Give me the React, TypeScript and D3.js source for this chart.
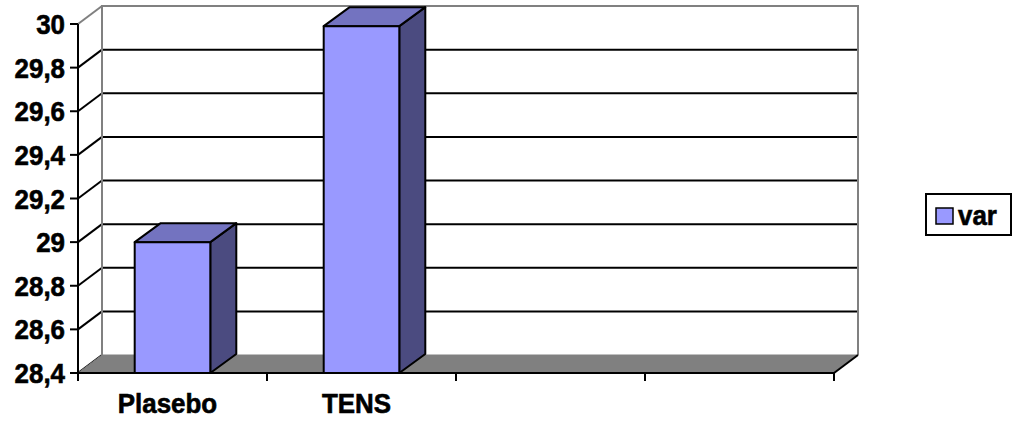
import React from 'react';
import * as d3 from 'd3';

// chart data
const categories = ['Plasebo', 'TENS', '', ''];
const varValues = [29.0, 29.99, null, null];
const yTicks = [28.4, 28.6, 28.8, 29, 29.2, 29.4, 29.6, 29.8, 30];
const seriesName = 'var';

const W = 1015;
const H = 421;
const front = { left: 78, right: 834, top: 24, bottom: 373 };
const depth = { dx: 24, dy: -18 }; // wall offset
const barDepth = { dx: 26, dy: -19 };
const font = 'Arial, "Liberation Sans", sans-serif';
const sx = 0.96; // horizontal squeeze of the text

const App = () => {
  const yScale = d3.scaleLinear().domain([28.4, 30]).range([front.bottom, front.top]);
  const xScale = d3
    .scaleBand<number>()
    .domain(d3.range(categories.length))
    .range([front.left, front.right]);
  const barW = xScale.bandwidth() / 2.5;
  const fmt = (v: number) => String(v).replace('.', ',');

  const backL = front.left + depth.dx;
  const backR = front.right + depth.dx;
  const backTop = front.top + depth.dy;
  const backBottom = front.bottom + depth.dy;

  const label = (x: number, y: number, text: string, anchor: string, key?: any) => (
    <text
      key={key}
      transform={`translate(${x},${y}) scale(${sx},1)`}
      textAnchor={anchor}
      fontFamily={font}
      fontWeight="bold"
      fontSize={27}
      fill="#000"
      stroke="#000"
      strokeWidth={0.6}
    >
      {text}
    </text>
  );

  return (
    <svg width={W} height={H} style={{ position: 'absolute', left: 0, top: 0 }}>
      <rect width={W} height={H} fill="#fff" />

      {/* back wall */}
      <rect x={backL} y={backTop} width={backR - backL} height={backBottom - backTop} fill="#fff" />
      {yTicks.slice(1, -1).map((t) => (
        <line
          key={'g' + t}
          x1={backL}
          x2={backR}
          y1={yScale(t) + depth.dy}
          y2={yScale(t) + depth.dy}
          stroke="#000"
          strokeWidth={2}
        />
      ))}
      {/* side wall grid diagonals */}
      {yTicks.slice(0, -1).map((t) => (
        <line
          key={'d' + t}
          x1={front.left}
          y1={yScale(t)}
          x2={backL}
          y2={yScale(t) + depth.dy}
          stroke="#000"
          strokeWidth={2}
        />
      ))}
      <line x1={front.left} y1={front.top} x2={backL} y2={backTop} stroke="#808080" strokeWidth={2} />
      <polyline
        points={`${backL},${backBottom} ${backL},${backTop} ${backR},${backTop} ${backR},${backBottom}`}
        fill="none"
        stroke="#808080"
        strokeWidth={2}
      />

      {/* floor */}
      <polygon
        points={`${front.left},${front.bottom} ${front.right},${front.bottom} ${backR},${backBottom} ${backL},${backBottom}`}
        fill="#808080"
        stroke="#808080"
        strokeWidth={1}
      />
      <line x1={front.right} y1={front.bottom} x2={backR} y2={backBottom} stroke="#000" strokeWidth={2} />

      {/* bars */}
      {varValues.map((v, i) => {
        if (v == null) return null;
        const cx = (xScale(i) as number) + xScale.bandwidth() / 2;
        const x0 = cx - barW / 2;
        const x1 = cx + barW / 2;
        const yt = yScale(v);
        const yb = yScale(28.4);
        const { dx, dy } = barDepth;
        return (
          <g key={'b' + i} stroke="#000" strokeWidth={2} strokeLinejoin="round">
            <polygon points={`${x1},${yb} ${x1 + dx},${yb + dy} ${x1 + dx},${yt + dy} ${x1},${yt}`} fill="#4b4b80" />
            <polygon points={`${x0},${yt} ${x0 + dx},${yt + dy} ${x1 + dx},${yt + dy} ${x1},${yt}`} fill="#7373c0" />
            <rect x={x0} y={yt} width={barW} height={yb - yt} fill="#9999ff" />
          </g>
        );
      })}

      {/* axes */}
      <line x1={front.left} y1={front.top} x2={front.left} y2={front.bottom} stroke="#000" strokeWidth={2} />
      <line x1={front.left} y1={front.bottom} x2={front.right} y2={front.bottom} stroke="#000" strokeWidth={2} />
      {yTicks.map((t) => (
        <line key={'yt' + t} x1={front.left - 8} x2={front.left} y1={yScale(t)} y2={yScale(t)} stroke="#000" strokeWidth={2} />
      ))}
      {yTicks.map((t) => label(front.left - 13, yScale(t) + 10, fmt(t), 'end', 'yl' + t))}
      {d3.range(categories.length + 1).map((i) => {
        const x = i < categories.length ? (xScale(i) as number) : front.right;
        return <line key={'xt' + i} x1={x} x2={x} y1={front.bottom} y2={front.bottom + 8} stroke="#000" strokeWidth={2} />;
      })}
      {categories.map((c, i) =>
        c ? label((xScale(i) as number) + xScale.bandwidth() / 2 - 5, 413, c, 'middle', 'xl' + i) : null
      )}

      {/* legend */}
      <rect x={926} y={194} width={85} height={41} fill="#fff" stroke="#000" strokeWidth={2} />
      <rect x={936} y={208} width={17} height={16} fill="#9999ff" stroke="#000" strokeWidth={1.5} />
      {label(958, 225, seriesName, 'start')}
    </svg>
  );
};

export default App;
